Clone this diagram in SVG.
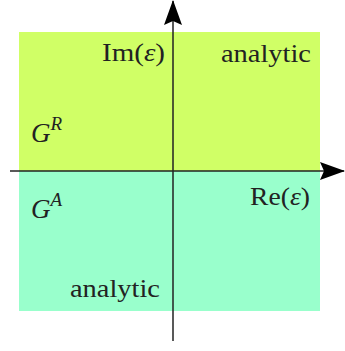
<svg xmlns="http://www.w3.org/2000/svg" width="345" height="351" viewBox="0 0 345 351">
<style>
.t{font-family:"Liberation Serif","Times New Roman",serif;font-size:25px;fill:#222}
.i{font-style:italic}
.g{font-size:27px}
.s{font-size:19px}
.ax{stroke:#222;stroke-width:1.5;fill:none}
</style>
<defs>
<marker id="ah" viewBox="0 0 25 18" refX="24" refY="9" markerWidth="25" markerHeight="18" markerUnits="userSpaceOnUse" orient="auto">
<path d="M0,0 L25,9 L0,18 L4,9 Z" fill="#000"/>
</marker>
</defs>
<g id="upper-half"><rect x="19" y="32" width="301" height="139" fill="#d0ff66"/></g>
<g id="lower-half"><rect x="19" y="171" width="301" height="140" fill="#99ffcc"/></g>
<g id="connectors">
<line class="ax" x1="173" y1="341" x2="173" y2="1" marker-end="url(#ah)"/>
<line class="ax" x1="10" y1="171" x2="344" y2="171" marker-end="url(#ah)"/>
</g>
<g id="im-label"><text class="t" x="165" y="61" text-anchor="end" textLength="63" lengthAdjust="spacingAndGlyphs">Im(<tspan class="i">ε</tspan>)</text></g>
<g id="analytic-top"><text class="t" x="221" y="62" textLength="90" lengthAdjust="spacingAndGlyphs">analytic</text></g>
<g id="gr-label"><text class="t i g" x="31" y="142">G<tspan class="s" dy="-12">R</tspan></text></g>
<g id="ga-label"><text class="t i g" x="31" y="218">G<tspan class="s" dy="-12">A</tspan></text></g>
<g id="re-label"><text class="t" x="310" y="205" text-anchor="end" textLength="60" lengthAdjust="spacingAndGlyphs">Re(<tspan class="i">ε</tspan>)</text></g>
<g id="analytic-bottom"><text class="t" x="70" y="297" textLength="90" lengthAdjust="spacingAndGlyphs">analytic</text></g>
</svg>
